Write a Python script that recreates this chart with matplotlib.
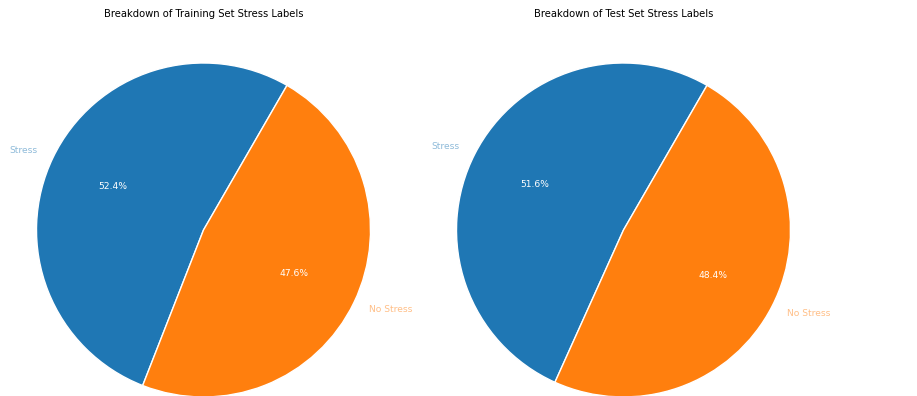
import matplotlib
matplotlib.use('Agg')
import matplotlib.pyplot as plt

# stress label breakdown for each split
labels = ['Stress', 'No Stress']
train_pct = [52.4, 47.6]
test_pct = [51.6, 48.4]
titles = ['Breakdown of Training Set Stress Labels', 'Breakdown of Test Set Stress Labels']
colors = ['#1f77b4', '#ff7f0e']

fig = plt.figure(figsize=(9.17, 3.96), dpi=100)
W, H = 917.0, 396.0
r = 167.0
centers = [(203.5, 230), (623.5, 230)]

for (cx, cy), vals, title in zip(centers, [train_pct, test_pct], titles):
    ax = fig.add_axes([(cx - r) / W, (H - cy - r) / H, 2 * r / W, 2 * r / H])
    wedges, texts, autotexts = ax.pie(vals, labels=labels, colors=colors, startangle=60,
                                      autopct='%1.1f%%', wedgeprops={'edgecolor': 'white', 'linewidth': 1},
                                      textprops={'fontsize': 6.6})
    ax.set_xlim(-1, 1)
    ax.set_ylim(-1, 1)
    ax.set_aspect('equal')
    ax.axis('off')
    for t, c in zip(texts, colors):
        t.set_color(c)
        t.set_alpha(0.5)
    for t in autotexts:
        t.set_color('white')
    fig.text(cx / W, 1 - 14 / H, title, ha='center', va='center', fontsize=7.2)

fig.savefig('out.png', dpi=100)
